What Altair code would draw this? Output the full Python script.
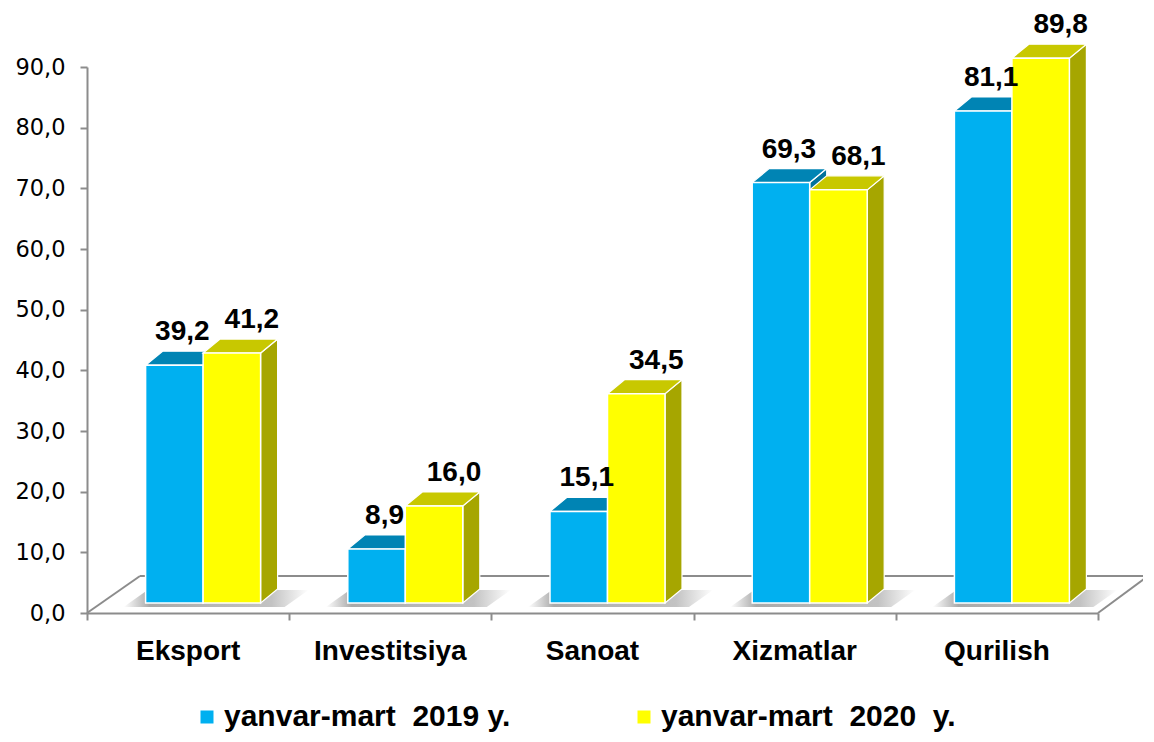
import altair as alt
import pandas as pd

# ---- data ----
categories = ["Eksport", "Investitsiya", "Sanoat", "Xizmatlar", "Qurilish"]
values_2019 = [39.2, 8.9, 15.1, 69.3, 81.1]
values_2020 = [41.2, 16.0, 34.5, 68.1, 89.8]
series_names = ["yanvar-mart\u00a0 2019 y.", "yanvar-mart\u00a0 2020\u00a0 y."]
y_ticks = [0, 10, 20, 30, 40, 50, 60, 70, 80, 90]

# ---- geometry / style ----
W, H = 1011, 546
N = len(categories)
YMAX = 90
PXX = W / N
PXY = H / YMAX
SHIFT, BW, DX, DY, LIFT = 15, 57.5, 17, 14, 10      # px
FLOOR_DXL, FLOOR_DXR, FLOOR_DY = 53, 50, 37          # px
SH_L, SH_R, SH_DX, SH_DY, SH_DOWN = 22, 24, 24, 17, 4  # shadow px
LABEL_DX = [8, 20]                                    # px
GRAY = "#8c8c8c"
FRONT = ["#00B0F0", "#FFFF00"]
TOP = ["#0084B4", "#C8C800"]
SIDE = ["#00729C", "#A6A600"]
FONT = "Liberation Sans"


def xu(p):
    return p / PXX


def yu(p):
    return p / PXY


front_rows, side_rows, top_rows, label_rows, shadow_rows = [], [], [], [], []
base = yu(LIFT)
for ci in range(N):
    c = ci + 0.5
    left = c + xu(SHIFT - BW) - xu(SH_L)
    right = c + xu(SHIFT + BW) + xu(SH_R)
    b = base - yu(SH_DOWN)
    shadow_rows += [
        dict(bid=ci, x=left, ya=b, yb=b),
        dict(bid=ci, x=left + xu(SH_DX), ya=b, yb=b + yu(SH_DY)),
        dict(bid=ci, x=right, ya=b, yb=b + yu(SH_DY)),
        dict(bid=ci, x=right + xu(SH_DX), ya=b + yu(SH_DY), yb=b + yu(SH_DY)),
    ]

for si, (name, vals) in enumerate(zip(series_names, [values_2019, values_2020])):
    for ci, (cat, v) in enumerate(zip(categories, vals)):
        c = ci + 0.5
        left = c + xu(SHIFT - BW + si * BW)
        right = left + xu(BW)
        top = v + base
        bid = f"{ci}-{si}"
        front_rows.append(dict(series=name, x0=left, x1=right, y0=base, y1=top))
        side_rows += [
            dict(s=si, bid=bid, x=right, ya=base, yb=top),
            dict(s=si, bid=bid, x=right + xu(DX), ya=base + yu(DY), yb=top + yu(DY)),
        ]
        top_rows += [
            dict(s=si, bid=bid, x=left, ya=top, yb=top),
            dict(s=si, bid=bid, x=left + xu(DX), ya=top, yb=top + yu(DY)),
            dict(s=si, bid=bid, x=right, ya=top, yb=top + yu(DY)),
            dict(s=si, bid=bid, x=right + xu(DX), ya=top + yu(DY), yb=top + yu(DY)),
        ]
        label_rows.append(dict(s=si, x=(left + right) / 2 + xu(LABEL_DX[si]), y=top,
                               text=f"{v:.1f}".replace(".", ",")))

front_df = pd.DataFrame(front_rows)
side_df = pd.DataFrame(side_rows)
top_df = pd.DataFrame(top_rows)
label_df = pd.DataFrame(label_rows)
shadow_df = pd.DataFrame(shadow_rows)
cat_df = pd.DataFrame(dict(x=[i + 0.5 for i in range(N)], y=[0] * N, text=categories))
floor_df = pd.DataFrame(dict(
    x=[xu(FLOOR_DXL), 0, N],
    y=[yu(FLOOR_DY), 0, 0],
    x2=[N + xu(FLOOR_DXR), xu(FLOOR_DXL), N + xu(FLOOR_DXR)],
    y2=[yu(FLOOR_DY), yu(FLOOR_DY), yu(FLOOR_DY)],
))

XS = alt.Scale(domain=[0, N], nice=False, zero=False)
YS = alt.Scale(domain=[0, YMAX], nice=False)
XA = alt.Axis(values=list(range(N + 1)), labels=False, title=None, grid=False,
              domainColor=GRAY, domainWidth=2, tickColor=GRAY, tickWidth=2, tickSize=7)
YA = alt.Axis(values=y_ticks, title=None, grid=False, domainColor=GRAY, domainWidth=2,
              tickColor=GRAY, tickWidth=2, tickSize=7, labelFont="DejaVu Sans",
              labelFontSize=22.5, labelColor="black", labelPadding=15,
              labelExpr="replace(format(datum.value, '.1f'), '.', ',')")


def X(f):
    return alt.X(f, scale=XS, axis=XA, title=None)


def Y(f):
    return alt.Y(f, scale=YS, axis=YA, title=None)


floor = alt.Chart(floor_df).mark_rule(color=GRAY, strokeWidth=2).encode(
    x=X("x:Q"), y=Y("y:Q"), x2="x2:Q", y2="y2:Q")

shadow_grad = alt.LinearGradient(
    gradient="linear", x1=0, x2=1, y1=0, y2=0,
    stops=[alt.GradientStop(color="#ffffff", offset=0),
           alt.GradientStop(color="#9a9a9a", offset=0.14),
           alt.GradientStop(color="#b8b8b8", offset=0.8),
           alt.GradientStop(color="#ffffff", offset=1)])

shadow = alt.Chart(shadow_df).mark_area(
    color=shadow_grad, opacity=0.85, interpolate="linear"
).encode(x=X("x:Q"), y=Y("ya:Q"), y2="yb:Q", detail="bid:N")


def faces(df, si, colors):
    return alt.Chart(df[df.s == si]).mark_area(
        color=colors[si], stroke="white", strokeWidth=1.2, opacity=1, interpolate="linear"
    ).encode(x=X("x:Q"), y=Y("ya:Q"), y2="yb:Q", detail="bid:N")


fronts = alt.Chart(front_df).mark_rect(stroke="white", strokeWidth=1.5, opacity=1).encode(
    x=X("x0:Q"), x2="x1:Q", y=Y("y0:Q"), y2="y1:Q",
    color=alt.Color("series:N",
                    scale=alt.Scale(domain=series_names, range=FRONT),
                    legend=alt.Legend(
                        title=None, orient="none", legendX=105, legendY=635,
                        direction="horizontal",
                        symbolType="square", symbolSize=169,
                        symbolStrokeWidth=0, symbolOpacity=1,
                        labelFont=FONT, labelFontSize=30, labelFontWeight="bold",
                        labelColor="black", labelLimit=500, labelOffset=2,
                        columnPadding=118, padding=0)),
)

labels = alt.Chart(label_df).mark_text(
    font=FONT, fontSize=28, fontWeight="bold", color="black", baseline="alphabetic", dy=-25
).encode(x=X("x:Q"), y=Y("y:Q"), text="text:N")

cat_labels = alt.Chart(cat_df).mark_text(
    font=FONT, fontSize=28, fontWeight="bold", color="black", baseline="alphabetic", dy=47
).encode(x=X("x:Q"), y=Y("y:Q"), text="text:N")

chart = alt.layer(
    floor, shadow,
    faces(side_df, 0, SIDE), faces(top_df, 0, TOP),
    faces(side_df, 1, SIDE), faces(top_df, 1, TOP),
    fronts, labels, cat_labels,
).properties(
    width=W, height=H, autosize="none",
    padding={"left": 79, "top": 59, "right": 45, "bottom": 121},
).configure_view(stroke=None)

chart.save("out.html", embed_options={"renderer": "svg", "actions": False})
